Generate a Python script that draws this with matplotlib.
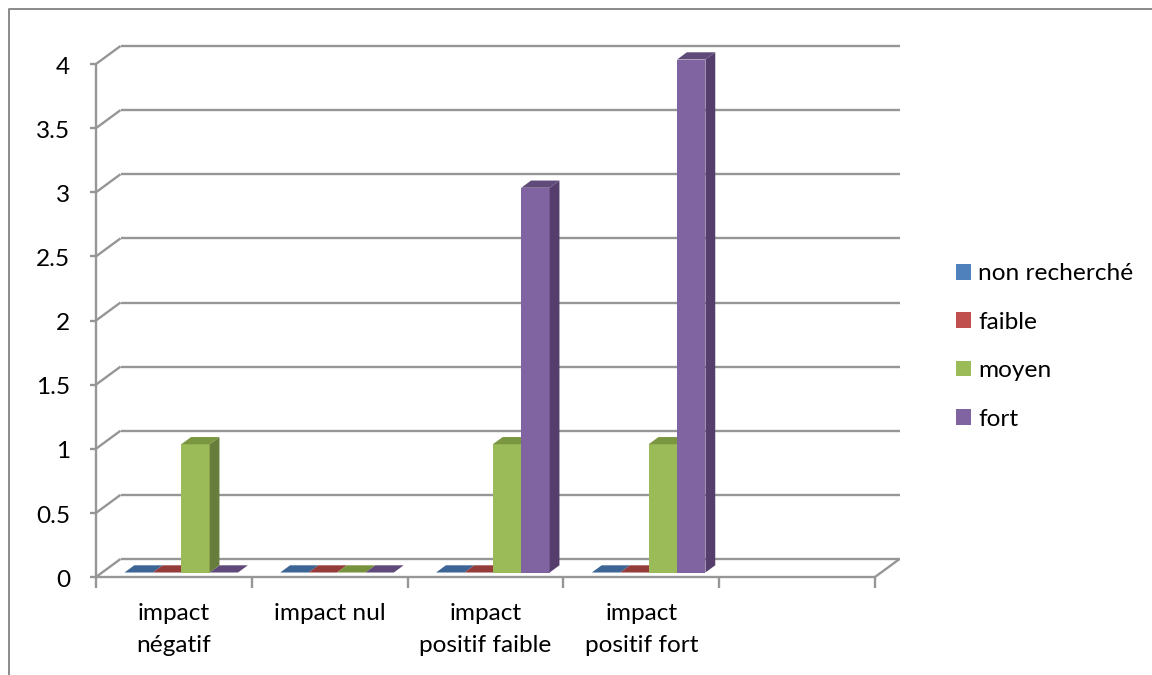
import matplotlib
matplotlib.use('Agg')
import matplotlib.pyplot as plt
from matplotlib.lines import Line2D
from matplotlib.patches import Polygon, Rectangle

categories = ['impact\nnégatif', 'impact nul', 'impact\npositif faible', 'impact\npositif fort', '']
series_names = ['non recherché', 'faible', 'moyen', 'fort']
non_recherche = [0, 0, 0, 0]
faible = [0, 0, 0, 0]
moyen = [1, 0, 1, 1]
fort = [0, 0, 3, 4]
y_ticks = [0, 0.5, 1, 1.5, 2, 2.5, 3, 3.5, 4]
y_labels = ['0', '0.5', '1', '1.5', '2', '2.5', '3', '3.5', '4']

front_cols = ['#4f81bd', '#c0504d', '#9bbb59', '#8064a2']
side_cols = ['#2f4d71', '#73302e', '#677d3b', '#553e6c']
top_cols = ['#3f6797', '#9a403e', '#7a9640', '#5f4a7a']
flat_cols = ['#3c6596', '#953b39', '#76923c', '#5f497a']
grid_col = '#969696'
fs = 17.6

W, H = 1152, 675
plt.rcParams['font.family'] = ['Lato', 'DejaVu Sans']
fig = plt.figure(figsize=(W / 100, H / 100), dpi=100)

# chart frame: only the top and left edges are inside the image
fig.add_artist(Line2D([9 / W, 9 / W, 1], [0, 1 - 9 / H, 1 - 9 / H], transform=fig.transFigure,
                      color='#8a8a8a', lw=1.4))

# front plane of the 3D box: value and category coordinates
left, right, top, bottom = 96, 875, 64, 577
ax = fig.add_axes([left / W, 1 - bottom / H, (right - left) / W, (bottom - top) / H])
ax.set_xlim(0, 5)
ax.set_ylim(0, 4)
ax.axis('off')

# depth of the box in data units
dx = 24.5 / ((right - left) / 5)
dy = 18 / ((bottom - top) / 4)

def line(xs, ys):
    ax.plot(xs, ys, color=grid_col, lw=1.7, clip_on=False, solid_capstyle='butt')

for v, lab in zip(y_ticks, y_labels):
    line([0, dx], [v, v + dy])
    line([dx, 5 + dx], [v + dy, v + dy])
    line([-0.04, 0], [v, v])
    ax.text(-0.165, v - 0.025, lab, ha='right', va='center', fontsize=fs, color='black', clip_on=False)

line([0, 0], [0, 4])
line([0, 5], [0, 0])
line([5, 5 + dx], [0, dy])
for i in range(6):
    line([i, i], [0, -0.085])
for i, cat in enumerate(categories):
    ax.text(i + 0.5, -0.2, cat, ha='center', va='top', fontsize=fs, linespacing=1.68, clip_on=False)

# bars sit part way into the depth of the box
frac = 0.3
bw = 28.4 / ((right - left) / 5)
ddx = dx * 0.4
ddy = dy * 0.4
series = [non_recherche, faible, moyen, fort]
for s, vals in enumerate(series):
    for i, v in enumerate(vals):
        x0 = i + 0.5 + frac * dx - 2 * bw + s * bw
        y0 = 0.25 * dy
        if v == 0:
            ax.add_patch(Polygon([(x0, y0), (x0 + bw, y0), (x0 + bw + ddx, y0 + ddy), (x0 + ddx, y0 + ddy)],
                                 fc=flat_cols[s], ec='none', clip_on=False, zorder=3))
            continue
        ax.bar(x0, v, bw, bottom=y0, align='edge', color=front_cols[s], clip_on=False, zorder=4 + s)
        ax.add_patch(Polygon([(x0 + bw, y0), (x0 + bw + ddx, y0 + ddy), (x0 + bw + ddx, y0 + v + ddy), (x0 + bw, y0 + v)],
                             fc=side_cols[s], ec='none', clip_on=False, zorder=4 + s))
        ax.add_patch(Polygon([(x0, y0 + v), (x0 + bw, y0 + v), (x0 + bw + ddx, y0 + v + ddy), (x0 + ddx, y0 + v + ddy)],
                             fc=top_cols[s], ec='none', clip_on=False, zorder=4 + s))

# legend
handles = [Rectangle((0, 0), 1, 1, fc=c, ec='none') for c in front_cols]
fig.legend(handles, series_names, loc='center left', bbox_to_anchor=(956 / W, 1 - 346.5 / H),
           frameon=False, fontsize=fs, handlelength=0.61, handleheight=0.61,
           handletextpad=0.29, labelspacing=1.12, borderpad=0, borderaxespad=0)

fig.savefig('out.png', dpi=100)
